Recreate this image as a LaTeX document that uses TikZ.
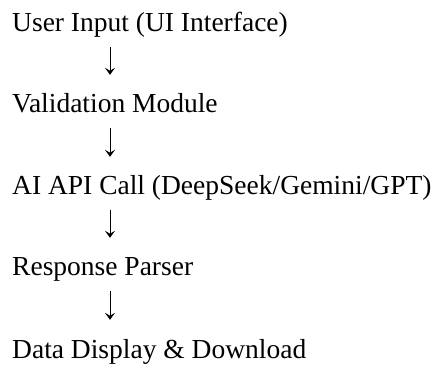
\documentclass[tikz,border=0pt]{standalone}
\usepackage{fontspec}
\setmainfont{Liberation Serif}
\usetikzlibrary{arrows.meta}
\begin{document}
\begin{tikzpicture}[x=1pt, y=1pt,
    stepline/.style={anchor=base west, inner sep=0pt, text height=20pt, text depth=6pt,
      font=\fontsize{27.5}{30}\selectfont},
    flow/.style={line width=0.8pt, -{Stealth[length=7pt, width=10pt, inset=3pt]},
      shorten <=9pt, shorten >=18pt}]
        \useasboundingbox (0,0) rectangle (440,-369);
        \node[stepline] (n1) at (12,-32) {User Input (UI Interface)};
        \node[stepline] (n2) at (12,-113) {Validation Module};
        \node[stepline] (n3) at (12,-195) {AI API Call (DeepSeek/Gemini/GPT)};
        \node[stepline] (n4) at (12,-276) {Response Parser};
        \node[stepline] (n5) at (12,-358) {Data Display \& Download};
        \foreach \a/\b in {n1/n2, n2/n3, n3/n4, n4/n5}
          \draw[flow] ([xshift=98pt]\a.south west) -- ([xshift=98pt]\b.north west);
    \end{tikzpicture}
\end{document}
